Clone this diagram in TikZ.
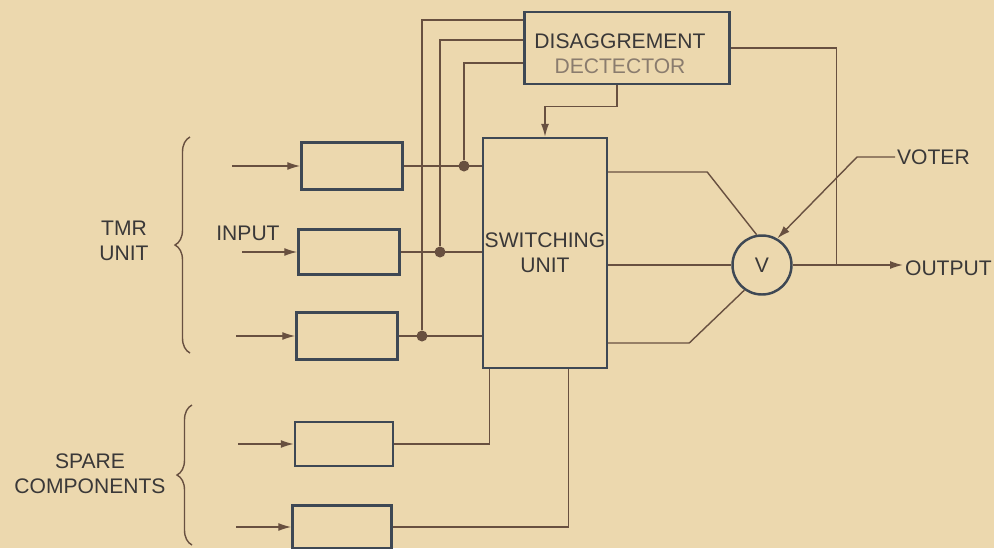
\documentclass[tikz,border=0pt]{standalone}
\usepackage{fontspec}
\setmainfont{Liberation Sans}
\usetikzlibrary{positioning, arrows.meta, decorations.pathreplacing}
\definecolor{paper}{RGB}{236,216,174}
\definecolor{boxc}{RGB}{62,72,84}
\definecolor{wirec}{RGB}{104,80,64}
\definecolor{inkc}{RGB}{58,56,56}
\definecolor{fadec}{RGB}{138,124,110}

\begin{document}
\begin{tikzpicture}[
    x=0.02cm, y=-0.02cm,
    font=\fontsize{12}{14}\selectfont,
    blk/.style={draw=boxc, line width=1.4pt, minimum width=2cm, minimum height=0.92cm, inner sep=0pt, text=inkc},
    wire/.style={draw=wirec, line width=0.8pt},
    arr/.style={wire, -{Latex[length=2.6mm, width=1.6mm]}},
    jdot/.style={circle, fill=wirec, inner sep=0pt, minimum size=2.2mm},
    lbl/.style={text=inkc, inner sep=1pt},
    brc/.style={wire, decorate, decoration={brace, amplitude=3mm}}
  ]
  \fill[paper] (0,0) rectangle (994,548);
  \useasboundingbox (0,0) rectangle (994,548);

  % main blocks
  \node[blk, minimum width=4.1cm, minimum height=1.44cm] (det) at (627,48) {};
  \node[lbl, align=center] (dettxt) at (620,54) {DISAGGREMENT\\{\color{fadec}DECTECTOR}};
  \node[blk, minimum width=2.48cm, minimum height=4.6cm, align=center] (sw) at (545,253) {SWITCHING\\UNIT};
  \node[circle, draw=boxc, line width=1.4pt, minimum size=1.18cm, inner sep=0pt, text=inkc] (v) at (762,265) {V};

  % TMR modules and spares
  \node[blk, minimum width=2.02cm, minimum height=0.94cm] (t1) at (352,166) {};
  \node[blk, minimum width=2.02cm, minimum height=0.9cm] (t2) at (349,252) {};
  \node[blk, minimum width=2.02cm, minimum height=0.94cm] (t3) at (347,336) {};
  \node[blk, minimum width=1.96cm, minimum height=0.88cm] (s1) at (344,444) {};
  \node[blk, minimum width=1.98cm, minimum height=0.86cm] (s2) at (342,527) {};

  % labels
  \node[lbl, align=center] (tmr) at (124,241) {TMR\\UNIT};
  \node[lbl] (inp) at (248,233) {INPUT};
  \node[lbl, align=center] (spare) at (90,474) {SPARE\\COMPONENTS};
  \node[lbl, anchor=west] (out) at (903,268) {OUTPUT};
  \node[lbl, anchor=west] (vlbl) at (895,157) {VOTER};

  \draw[brc] (190,353) -- (190,137);
  \draw[brc] (192,545) -- (192,405);

  % inputs
  \coordinate (in1) at (232,166);
  \coordinate (in2) at (242,252);
  \coordinate (in3) at (236,336);
  \coordinate (in4) at (238,444);
  \coordinate (in5) at (236,527);
  \draw[arr] (in1) -- (t1.west);
  \draw[arr] (in2) -- (t2.west);
  \draw[arr] (in3) -- (t3.west);
  \draw[arr] (in4) -- (s1.west);
  \draw[arr] (in5) -- (s2.west);

  % module outputs and taps to the detector
  \draw[wire] (t1.east) -- (sw.west |- t1.east);
  \draw[wire] (t2.east) -- (sw.west |- t2.east);
  \draw[wire] (t3.east) -- (sw.west |- t3.east);
  \node[jdot] (j1) at (464,166) {};
  \node[jdot] (j2) at (440,252) {};
  \node[jdot] (j3) at (422,336) {};
  \draw[wire] (j1) |- (det.west |- 0,63);
  \draw[wire] (j2) |- (det.west |- 0,40);
  \draw[wire] (j3) |- (det.west |- 0,20);
  \draw[arr] ([xshift=-2mm]det.south) -- ++(0,21) -| (sw.north);

  % spares into the switch
  \draw[wire] (s1.east) -| ([xshift=1.6mm]sw.south west);
  \draw[wire] (s2.east) -| ([xshift=-8mm]sw.south east);

  % switch to voter
  \draw[wire] (sw.east |- 0,172) -- ++(99,0) -- (v.100);
  \draw[wire] (sw.east |- v.west) -- (v.west);
  \draw[wire] (sw.east |- 0,343) -- ++(81,0) -- (v.235);

  % output and feedback
  \coordinate (fb) at ([xshift=8.8mm]v.east);
  \draw[arr] (v.east) -- (out.west |- v.east);
  \draw[wire] (fb) |- (det.east);
  \draw[arr] (vlbl.west) -- ++(-38,0) -- (v.60);
\end{tikzpicture}
\end{document}
